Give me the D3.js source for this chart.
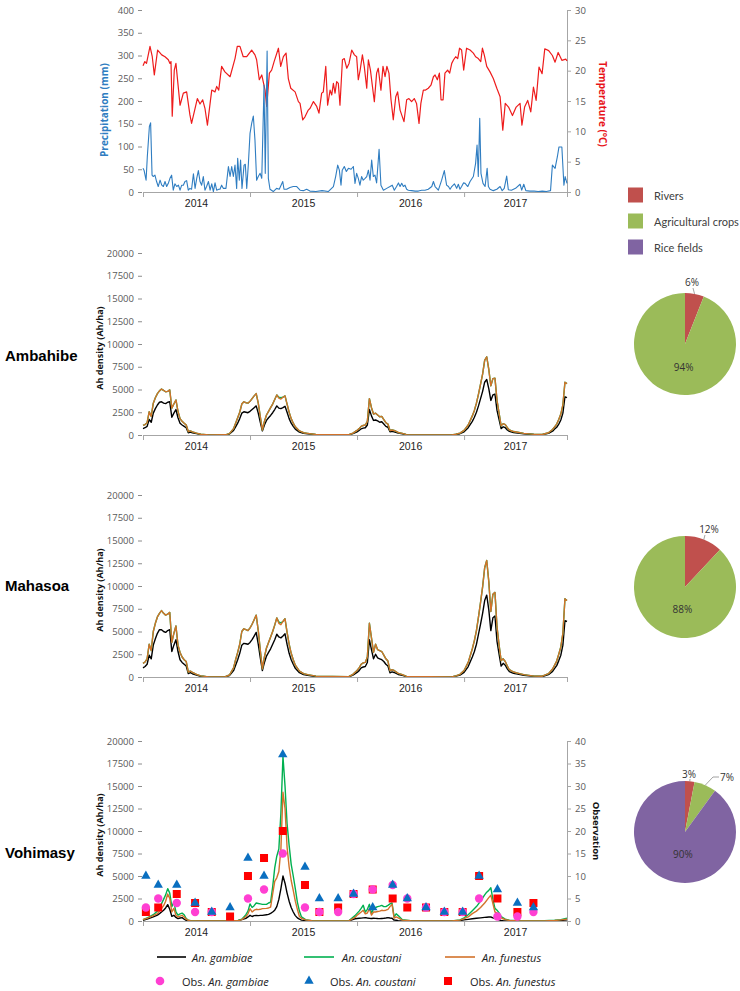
<!DOCTYPE html>
<html><head><meta charset="utf-8">
<script src="https://cdn.jsdelivr.net/npm/d3@7/dist/d3.min.js"></script>
<style>body{margin:0;background:#fff}svg{display:block}</style>
</head><body>
<script>
// ---------------- DATA ----------------
const years = ['2014','2015','2016','2017'];
const yearTicks = [0,52,104,156,206];      // week index of year boundaries
const yearMid = [26,78,130,181];

// Top panel: temperature (°C) trace
const tempWeek = [0,0.9,1.7,3.4,4.5,5.5,7.1,9.1,10.7,12.3,13.1,13.6,14.2,15.2,16.0,18.0,19.6,21.2,22.8,23.6,25.3,26.4,27.7,29.0,30.1,31.3,32.6,33.4,35.0,35.8,36.8,38.2,39.8,42.3,44.7,45.8,47.1,48.7,50.4,52.8,54.4,55.2,56.5,57.7,59.3,60.1,61.4,62.5,63.7,65.8,66.9,68.2,69.5,70.6,71.8,73.9,75.5,76.3,77.6,78.7,80.3,81.2,82.8,84.4,85.5,86.8,87.6,88.8,89.7,90.9,91.7,92.5,93.3,94.1,94.9,95.7,96.9,97.8,99.0,100.1,101.4,102.7,103.8,104.6,105.5,106.6,107.5,108.7,109.5,110.5,111.4,112.4,113.5,114.3,115.6,116.6,117.6,118.5,119.5,120.5,121.6,122.8,123.7,124.9,126.8,128.1,129.2,130.5,131.8,132.9,134.1,135.0,136.2,137.3,138.6,139.9,141.1,141.9,143.0,144.0,144.8,145.8,146.7,148.0,149.0,150.0,150.9,151.9,152.9,153.8,154.8,155.8,157.2,158.9,160.5,161.6,162.9,164.1,164.9,165.8,167.0,168.6,170.2,171.9,173.5,174.8,176.0,177.6,179.5,181.3,183.2,184.1,185.4,186.9,188.4,189.7,191.0,192.4,193.9,195.2,197.1,198.9,200.2,201.7,203.5,205.4,206];
const tempVal = [20.8,21.5,21.2,24.0,22.3,19.3,23.4,22.6,22.3,21.8,21.2,21.5,12.5,20.1,21.2,14.3,16.3,16.5,12.7,11.3,13.8,15.4,14.5,15.2,13.8,11.0,14.6,16.8,16.5,17.4,16.8,20.7,19.8,19.0,22.0,24.0,24.0,22.3,22.3,23.4,22.6,21.8,18.5,19.3,16.8,14.1,19.6,20.1,21.5,23.7,20.7,22.3,22.9,18.7,17.1,16.5,14.9,14.6,11.9,12.4,13.5,13.8,14.9,14.1,13.0,16.3,16.5,20.7,14.3,16.8,16.0,17.9,16.3,18.2,17.9,14.3,21.8,22.0,20.4,21.2,23.4,22.6,22.3,18.5,20.1,22.6,20.7,17.1,21.8,20.1,17.6,14.9,19.6,20.4,16.8,20.7,19.0,20.7,19.6,15.2,11.9,15.7,16.5,13.5,11.6,15.2,15.4,14.9,15.4,14.6,11.3,14.6,16.8,16.8,17.1,17.6,19.0,19.3,18.5,19.6,15.2,15.2,19.6,20.1,19.6,21.2,21.8,22.3,22.0,23.7,23.4,20.1,23.7,23.4,22.9,22.3,22.0,21.5,23.7,22.6,20.7,19.8,18.7,17.1,15.7,10.2,14.6,14.0,12.6,14.0,14.6,11.0,14.0,15.1,13.2,17.3,15.1,20.6,19.5,23.6,23.3,22.5,21.4,23.0,21.7,21.9,21.6];

// Top panel: precipitation (mm) trace
const precWeek = [0,0.5,1.5,2.1,3.1,3.7,4.4,5.0,5.8,6.6,7.4,8.3,9.1,9.9,10.7,11.5,12.3,13.1,13.9,14.7,15.5,16.4,17.2,18.0,18.8,19.6,20.4,21.2,22.0,22.8,23.6,24.5,25.3,26.1,26.9,27.7,28.5,29.3,30.1,30.9,31.8,32.6,33.4,34.2,35.0,35.8,36.8,37.4,38.2,39.0,40.3,41.5,42.3,43.1,43.9,44.7,45.5,46.0,46.8,47.4,48.1,49.1,49.7,50.4,51.2,52.0,52.8,53.6,54.4,55.2,56.0,56.9,57.7,58.8,59.4,60.3,60.9,61.7,63.3,64.9,66.2,67.9,68.5,69.8,71.4,73.0,74.7,76.3,77.9,79.5,81.1,84,87,90,92.5,93.6,94.6,95.4,96.2,96.8,97.8,98.8,99.8,101.1,102.2,103.0,103.8,104.6,105.4,106.2,107.0,107.9,108.7,109.5,110.3,111.1,111.9,112.7,113.5,114.7,115.6,116.8,118.4,120.0,121.1,122.1,123.2,124.1,124.9,125.7,126.5,127.3,128.1,128.9,130.5,132.2,133.8,135.4,137.0,138.6,140.3,141.1,141.9,143.5,145.1,146.4,147.5,148.4,149.2,150.0,151.3,152.4,153.2,154.0,154.8,155.7,156.5,157.8,158.9,160.5,161.6,162.3,162.9,163.6,164.2,165.2,166.2,167.2,167.8,168.6,170.2,171.9,173.5,174.5,175.5,176.7,177.5,179,181,183.2,184,185,186,188,190,192,194,196,198,198.9,200.2,201.3,202.1,203.5,204.5,205.1,206];
const precVal = [52,48,26,78,144,152,37,34,37,23,12,26,15,12,23,12,19,30,37,4,18,12,15,4,15,15,23,25,4,8,6,40,8,30,47,23,15,34,4,12,23,4,18,1,20,4,6,6,15,8,8,56,34,56,34,59,8,74,26,70,8,59,61,8,62,129,151,167,114,26,34,41,30,235,41,310,30,6,1,8,6,23,6,6,10,12,12,4,3,6,2,1,3,1,12,34,59,48,15,48,56,45,52,50,56,19,41,30,15,34,26,30,34,48,26,70,34,37,20,94,15,4,8,12,15,4,12,20,12,19,12,15,6,4,3,2,2,4,4,6,12,23,12,4,26,47,15,12,6,12,18,8,17,6,12,20,19,12,23,34,63,103,34,162,41,19,12,52,12,6,3,6,12,3,8,35,5,4,8,17,4,17,3,2,2,1,2,1,3,59,52,77,99,99,15,34,19];

// Ambahibe & Mahasoa: weekly sample points
const weeksAM = [0,1,2,3,4,5,6,7,8,9,10,11,12,13,14,15,16,17,18,19,20,21,22,23,24,26,28,32,40,42,44,45,46,47,48,49,50,51,52,53,54,55,56,57,58,59,60,61,62,63,64,65,66,67,68,69,70,71,72,73,74,76,78,80,84,100,102,104,105,106,107,108,109,110,111,112,113,114,115,116,117,118,119,120,121,122,124,126,128,150,152,154,156,158,160,161,162,163,164,165,166,167,168,169,170,171,172,173,174,175,176,177,178,180,182,185,190,194,197,199,200,201,202,203,204,205,206];
const ambGambiae = [700,800,950,1700,1400,2400,2900,3300,3600,3650,3500,3450,3600,3650,1950,2400,2800,1900,1300,1100,950,800,250,320,250,150,50,5,10,100,500,900,1300,1800,2400,2550,2500,2450,2600,2800,3000,3200,2400,1400,450,1100,1600,1900,2150,2450,2800,3200,2950,2900,3000,3150,2500,1800,1300,950,650,320,180,120,40,20,150,350,500,680,750,800,1100,2800,2100,1600,1650,1550,1400,1450,1200,950,850,350,400,350,200,120,30,5,60,140,350,800,1500,1950,2500,3200,4000,4800,5800,6100,5100,3800,4400,4500,2700,1700,700,900,800,550,400,270,210,130,50,40,180,420,650,850,1200,1650,2400,4200,4100];
const ambCoustani = [1050,1150,1350,2550,2050,3500,4100,4550,4850,5050,4900,4750,4800,4950,2950,3400,3850,2600,1800,1500,1300,1100,380,450,350,200,80,10,20,150,700,1300,1900,2500,3400,3650,3550,3500,3700,4000,4300,4550,3500,2000,550,1500,2200,2600,3000,3400,3900,4400,4150,4100,4150,4300,3400,2500,1800,1300,900,450,250,180,60,30,200,500,700,950,1050,1100,1500,4000,3000,2300,2400,2200,2000,2050,1700,1350,1200,500,550,500,280,180,40,10,80,200,500,1100,2100,2700,3500,4500,5600,6700,8200,8600,7200,5400,6200,6250,3800,2400,1000,1250,1150,800,550,380,300,180,70,60,250,600,900,1200,1700,2300,3300,5800,5650];
const ambFunestus = [1050,1150,1350,2550,2050,3500,4100,4550,4850,5050,4900,4750,4800,4950,2950,3400,3850,2600,1800,1500,1300,1100,380,450,350,200,80,10,20,150,700,1300,1900,2500,3400,3650,3550,3500,3700,4000,4300,4550,3500,2000,550,1500,2200,2600,3000,3400,3900,4400,4050,3950,4150,4300,3400,2500,1800,1300,900,450,250,180,60,30,200,500,700,950,1050,1100,1500,4000,3000,2300,2400,2200,2000,2050,1700,1350,1200,500,550,500,280,180,40,10,80,200,500,1100,2100,2700,3500,4500,5600,6700,8200,8600,7200,5400,6200,6250,3800,2400,1000,1250,1150,800,550,380,300,180,70,60,250,600,900,1200,1700,2300,3300,5800,5650];
const mahGambiae = [1000,1150,1400,2400,2000,3500,4200,4800,5200,5200,5000,4900,5100,5200,2800,3500,4100,2800,1900,1600,1400,1200,380,470,360,200,80,8,15,150,700,1300,1900,2600,3500,3700,3650,3600,3800,4100,4500,4900,3600,2100,700,1600,2300,2700,3100,3600,4100,4700,4400,4300,4500,4750,3600,2600,1900,1400,950,470,260,180,60,30,200,500,700,1000,1100,1150,1600,4100,3000,2000,2500,2100,2000,1900,1700,1400,1200,450,560,500,280,180,40,8,90,200,500,1150,2200,2800,3600,4700,5800,7000,8400,9000,7400,5100,6500,6700,3900,2500,1200,1500,1300,900,600,400,310,190,70,60,260,620,950,1250,1800,2400,3500,6200,6100];
const mahCoustani = [1500,1650,2000,3600,2900,5000,5900,6600,7000,7300,7000,6800,6900,7100,3800,4800,5600,3500,2700,2200,1900,1700,550,650,500,280,120,15,30,220,1000,1900,2700,3600,5000,5300,5200,5100,5400,5800,6300,6800,5100,2900,900,2200,3200,3800,4400,5000,5700,6500,6050,5950,6100,6400,4900,3600,2600,1900,1300,650,370,260,90,45,290,720,1000,1400,1550,1600,2200,5900,4300,2700,3600,3000,2900,2800,2400,2000,1750,700,800,720,400,260,60,15,120,290,720,1600,3100,4000,5100,6600,8200,9900,12000,12800,10500,7200,9100,9300,5500,3500,1800,2000,1700,1200,800,550,430,260,100,90,360,870,1300,1750,2500,3300,4800,8600,8400];
const mahFunestus = [1500,1650,2000,3600,2900,5000,5900,6600,7000,7300,7000,6800,6900,7100,3800,4800,5600,3500,2700,2200,1900,1700,550,650,500,280,120,15,30,220,1000,1900,2700,3600,5000,5300,5200,5100,5400,5800,6300,6800,5100,2900,900,2200,3200,3800,4400,5000,5700,6500,5900,5750,6100,6400,4900,3600,2600,1900,1300,650,370,260,90,45,290,720,1000,1400,1550,1600,2200,5900,4300,2700,3600,3000,2900,2800,2400,2000,1750,700,800,720,400,260,60,15,120,290,720,1600,3100,4000,5100,6600,8200,9900,12000,12800,10500,7200,9100,9300,5500,3500,1800,2000,1700,1200,800,550,430,260,100,90,360,870,1300,1750,2500,3300,4800,8600,8400];

// Vohimasy
const weeksV = [0,2,3,5,7,8,9,10,11,12,13,14,15,16,17,18,19,20,21,22,23,26,30,40,46,48,50,51,52,53,54,55,56,57,58,60,61,62,63,64,65,66,67,68,69,70,71,72,73,74,75,76,77,79,82,100,103,104,105,106,107,108,109,110,111,112,113,114,115,116,117,118,119,120,121,122,123,124,126,130,150,154,156,158,160,162,164,166,167,168,169,170,171,172,173,174,175,176,178,182,195,200,203,206];
const vohGambiae = [74,200,300,450,650,820,1000,1190,1450,1820,1300,520,630,400,260,330,370,200,80,30,15,5,0,0,30,150,300,450,630,500,600,630,600,620,630,700,740,850,1000,1200,1600,2400,3600,5000,4200,3100,2200,1500,1000,600,350,200,100,40,10,5,250,280,300,320,350,370,330,300,280,300,290,270,260,280,300,330,370,330,300,100,80,40,15,5,5,60,120,180,250,300,350,400,420,440,445,350,300,200,120,60,30,15,5,0,0,20,60,120];
const vohCoustani = [150,350,450,700,1100,1500,1930,2400,2900,3600,3100,1600,2100,1000,650,800,880,700,260,100,60,20,0,0,30,200,700,1100,1900,1500,1700,2000,1950,1900,1850,1850,2000,2100,3800,5900,7200,8000,12000,18300,15000,10800,8400,6300,5000,3600,2100,1100,450,150,40,20,600,850,1100,1400,1750,1000,1300,1850,850,1370,1500,1600,1650,1740,1600,1600,1740,1900,2000,450,800,600,150,30,10,120,350,700,1150,1600,2200,2900,3200,3400,3700,2400,1400,1200,900,500,350,200,80,30,20,80,150,300];
const vohFunestus = [150,300,400,600,820,1100,1370,1700,2200,3000,2500,1000,1400,630,450,550,630,450,200,80,40,15,0,0,20,150,500,800,1370,1000,1200,1300,1260,1300,1370,1400,1450,1550,3000,4400,4800,5500,8000,14300,12500,8200,6000,4500,3400,2200,1300,500,300,120,30,15,400,630,820,1000,1190,800,890,1370,650,1000,1000,1050,1100,1190,1150,1200,1300,1600,1850,330,450,350,100,20,8,100,260,450,820,1100,1500,2000,2300,2600,2860,1930,1000,900,600,350,250,150,60,20,15,60,120,200];

// Vohimasy observations (right axis)
const obsWeeks = [1.4,7.4,16.4,25.3,33.4,42.3,51,58.8,67.9,78.7,85.7,94.8,102.3,111.6,121.3,128.4,137.5,146.4,155.3,163.3,172.2,181.9,189.7];
const obsGambiae = [3,5,4,2,2,null,5,7,15,3,2,2,6,7,8,5,3,2,2,5,1,1,2];
const obsCoustani = [10,8,8,4,2,3,14,10,37,12,5,5,6,3,8,5,3,2,2,10,7,4,3];
const obsFunestus = [2,3,6,4,2,1,10,14,20,8,2,3,6,7,5,3,3,2,2,10,5,2,4];

// Land-use pies
const landUse = ['Rivers','Agricultural crops','Rice fields'];
const pieAmbahibe = [6,94,0];
const pieMahasoa = [12,88,0];
const pieVohimasy = [3,7,90];

const densTicks = [0,2500,5000,7500,10000,12500,15000,17500,20000];
const precTicks = [0,50,100,150,200,250,300,350,400];
const tempTicks = [0,5,10,15,20,25,30];
const obsTicks = [0,5,10,15,20,25,30,35,40];

// ---------------- DRAW ----------------
const W = 740, H = 991;
const svg = d3.select('body').append('svg').attr('width', W).attr('height', H);
const X0 = 143, X1 = 567;
const x = d3.scaleLinear().domain([0, 206]).range([X0, X1]);
const FONT = '"Open Sans", "DejaVu Sans", sans-serif';
const AX = '#a6a6a6';
const C_GAM = '#000000', C_COU = '#00b050', C_FUN = '#d2722a';
const C_OG = '#ff3fd2', C_OC = '#0a6fc0', C_OF = '#ff0000';
const PIE_COL = ['#c0504d', '#9bbb59', '#8064a2'];
const fmt = d3.format('d');

function xAxis(y0) {
  const g = svg.append('g').attr('transform', `translate(0,${y0})`)
    .call(d3.axisBottom(x).tickValues(yearTicks).tickSize(5).tickSizeOuter(0).tickFormat(''));
  g.select('.domain').attr('stroke', AX);
  g.selectAll('.tick line').attr('stroke', AX);
  svg.append('g').selectAll('text').data(years).join('text')
    .attr('x', (d, i) => x(yearMid[i])).attr('y', y0 + 15)
    .attr('text-anchor', 'middle').style('font', `10.5px "Liberation Sans", Arial, sans-serif`).attr('fill', '#222')
    .text(d => d);
}
function leftAxis(y, ticks) {
  const g = svg.append('g').attr('transform', `translate(${X0 - 1},0)`)
    .call(d3.axisLeft(y).tickValues(ticks).tickFormat(fmt).tickSize(4).tickPadding(4));
  g.select('.domain').remove();
  g.selectAll('.tick line').attr('stroke', '#8c8c8c');
  g.selectAll('.tick text').attr('fill', '#595959').style('font', `9.5px ${FONT}`);
}
function rightAxis(y, ticks) {
  const g = svg.append('g').attr('transform', `translate(${X1},0)`)
    .call(d3.axisRight(y).tickValues(ticks).tickFormat(fmt).tickSize(4).tickPadding(4).tickSizeOuter(0));
  g.select('.domain').attr('stroke', AX);
  g.selectAll('.tick line').attr('stroke', AX);
  g.selectAll('.tick text').attr('fill', '#595959').style('font', `9.5px ${FONT}`);
}
function vLabel(txt, cx, cy, rot, color, size) {
  svg.append('text').attr('transform', `translate(${cx},${cy}) rotate(${rot})`)
    .attr('text-anchor', 'middle').attr('dominant-baseline', 'central')
    .style('font', `bold ${size}px ${FONT}`).attr('fill', color).text(txt);
}
function series(weeks, vals, y, color, w) {
  const pts = weeks.map((wk, i) => [wk, vals[i]]);
  svg.append('path').datum(pts).attr('fill', 'none').attr('stroke', color)
    .attr('stroke-width', w).attr('stroke-linejoin', 'round')
    .attr('d', d3.line().x(d => x(d[0])).y(d => y(d[1])));
}

// ---- Top panel ----
{
  const T0 = 10, TB = 192;
  const yP = d3.scaleLinear().domain([0, 400]).range([TB, T0]);
  const yT = d3.scaleLinear().domain([0, 30]).range([TB, T0]);
  leftAxis(yP, precTicks);
  rightAxis(yT, tempTicks);
  series(tempWeek, tempVal, yT, '#ee1c1c', 1.2);
  series(precWeek, precVal, yP, '#2f7dc1', 1.1);
  xAxis(TB);
  vLabel('Precipitation (mm)', 104, 110, -90, '#2f7dc1', 10);
  vLabel('Temperature (°C)', 603, 104, 90, '#e8141b', 10);
}

// ---- Density panels ----
function densityPanel(top, bottom, weeks, g, c, f, name, nameY) {
  const y = d3.scaleLinear().domain([0, 20000]).range([bottom, top]);
  leftAxis(y, densTicks);
  series(weeks, g, y, C_GAM, 1.4);
  series(weeks, c, y, C_COU, 1.4);
  series(weeks, f, y, C_FUN, 1.4);
  xAxis(bottom);
  vLabel('Ah density (Ah/ha)', 99, (top + bottom) / 2 + 4, -90, '#111', 9);
  svg.append('text').attr('x', 5).attr('y', nameY).attr('dominant-baseline', 'central')
    .style('font', 'bold 15px "Liberation Sans", Arial, sans-serif').attr('fill', '#000').text(name);
  return y;
}
densityPanel(253, 435, weeksAM, ambGambiae, ambCoustani, ambFunestus, 'Ambahibe', 355);
densityPanel(495, 677, weeksAM, mahGambiae, mahCoustani, mahFunestus, 'Mahasoa', 585);
densityPanel(741, 921, weeksV, vohGambiae, vohCoustani, vohFunestus, 'Vohimasy', 852);

// Vohimasy right axis + observations
{
  const yO = d3.scaleLinear().domain([0, 40]).range([921, 741]);
  rightAxis(yO, obsTicks);
  vLabel('Observation', 596, 831, 90, '#111', 9.5);
  const sq = obsWeeks.map((w, i) => [w, obsFunestus[i]]).filter(d => d[1] != null);
  const ci = obsWeeks.map((w, i) => [w, obsGambiae[i]]).filter(d => d[1] != null);
  const tr = obsWeeks.map((w, i) => [w, obsCoustani[i]]).filter(d => d[1] != null);
  svg.append('g').selectAll('rect').data(sq).join('rect')
    .attr('x', d => x(d[0]) - 4).attr('y', d => yO(d[1]) - 4).attr('width', 8).attr('height', 8).attr('fill', C_OF);
  svg.append('g').selectAll('circle').data(ci).join('circle')
    .attr('cx', d => x(d[0])).attr('cy', d => yO(d[1])).attr('r', 4.2).attr('fill', C_OG);
  const tri = d3.symbol().type(d3.symbolTriangle).size(38);
  svg.append('g').selectAll('path').data(tr).join('path')
    .attr('transform', d => `translate(${x(d[0])},${yO(d[1])})`).attr('d', tri).attr('fill', C_OC);
}

// ---- Bottom legend ----
{
  const rows = [
    { y: 957, items: [
      { kind: 'line', col: C_GAM, x0: 157, x1: 186, tx: 192, pre: '', it: 'An. gambiae' },
      { kind: 'line', col: C_COU, x0: 304, x1: 334, tx: 342, pre: '', it: 'An. coustani' },
      { kind: 'line', col: C_FUN, x0: 445, x1: 475, tx: 482, pre: '', it: 'An. funestus' }] },
    { y: 981, items: [
      { kind: 'circle', col: C_OG, cx: 160, tx: 182, pre: 'Obs. ', it: 'An. gambiae' },
      { kind: 'tri', col: C_OC, cx: 309, tx: 330, pre: 'Obs. ', it: 'An. coustani' },
      { kind: 'sq', col: C_OF, cx: 448, tx: 470, pre: 'Obs. ', it: 'An. funestus' }] }
  ];
  rows.forEach(r => r.items.forEach(it => {
    if (it.kind === 'line') svg.append('line').attr('x1', it.x0).attr('x2', it.x1).attr('y1', r.y).attr('y2', r.y).attr('stroke', it.col).attr('stroke-width', 1.6);
    if (it.kind === 'circle') svg.append('circle').attr('cx', it.cx).attr('cy', r.y).attr('r', 4.3).attr('fill', it.col);
    if (it.kind === 'tri') svg.append('path').attr('transform', `translate(${it.cx},${r.y})`).attr('d', d3.symbol().type(d3.symbolTriangle).size(38)).attr('fill', it.col);
    if (it.kind === 'sq') svg.append('rect').attr('x', it.cx - 4).attr('y', r.y - 4).attr('width', 8).attr('height', 8).attr('fill', it.col);
    const t = svg.append('text').attr('x', it.tx).attr('y', r.y).attr('dominant-baseline', 'central')
      .style('font', `11px ${FONT}`).attr('fill', '#222');
    if (it.pre) t.append('tspan').text(it.pre);
    t.append('tspan').style('font-style', 'italic').text(it.it);
  }));
}

// ---- Pie legend ----
{
  const ly = [195, 221, 247];
  landUse.forEach((n, i) => {
    svg.append('rect').attr('x', 628).attr('y', ly[i] - 7.5).attr('width', 15).attr('height', 15).attr('fill', PIE_COL[i]);
    svg.append('text').attr('x', 654).attr('y', ly[i]).attr('dominant-baseline', 'central')
      .style('font', '11px Lato, "Open Sans", sans-serif').attr('fill', '#404040').text(n);
  });
}

// ---- Pies ----
function drawPie(vals, cx, cy, r, outside) {
  const arcs = d3.pie().sort(null).value(d => d)(vals);
  const arc = d3.arc().innerRadius(0).outerRadius(r);
  const g = svg.append('g').attr('transform', `translate(${cx},${cy})`);
  g.selectAll('path').data(arcs).join('path').attr('d', arc).attr('fill', (d, i) => PIE_COL[i]);
  arcs.forEach((a, i) => {
    if (a.data <= 0) return;
    const mid = (a.startAngle + a.endAngle) / 2;
    const o = outside[i];
    if (!o) {
      const rr = r * 0.46;
      g.append('text').attr('x', Math.sin(mid) * rr * 0.3).attr('y', -Math.cos(mid) * rr)
        .attr('text-anchor', 'middle').attr('dominant-baseline', 'central')
        .style('font', `10px ${FONT}`).attr('fill', '#333').text(a.data + '%');
    } else {
      const ex = Math.sin(mid) * r, ey = -Math.cos(mid) * r;
      g.append('polyline').attr('points', o.line.map(p => p.join(',')).concat([[ex, ey].join(',')]).join(' '))
        .attr('fill', 'none').attr('stroke', '#8c8c8c').attr('stroke-width', 0.8);
      g.append('text').attr('x', o.tx).attr('y', o.ty).attr('text-anchor', 'middle').attr('dominant-baseline', 'central')
        .style('font', `10px ${FONT}`).attr('fill', '#333').text(a.data + '%');
    }
  });
}
drawPie(pieAmbahibe, 685, 344, 51, [{ tx: 7, ty: -62, line: [[8, -56]] }, null, null]);
drawPie(pieMahasoa, 685, 587, 51, [{ tx: 24, ty: -58, line: [[20, -52]] }, null, null]);
drawPie(pieVohimasy, 685, 832, 51, [{ tx: 4, ty: -58, line: [[5, -53]] }, { tx: 42, ty: -55, line: [[34, -55], [28, -55]] }, null]);
</script>
</body></html>
